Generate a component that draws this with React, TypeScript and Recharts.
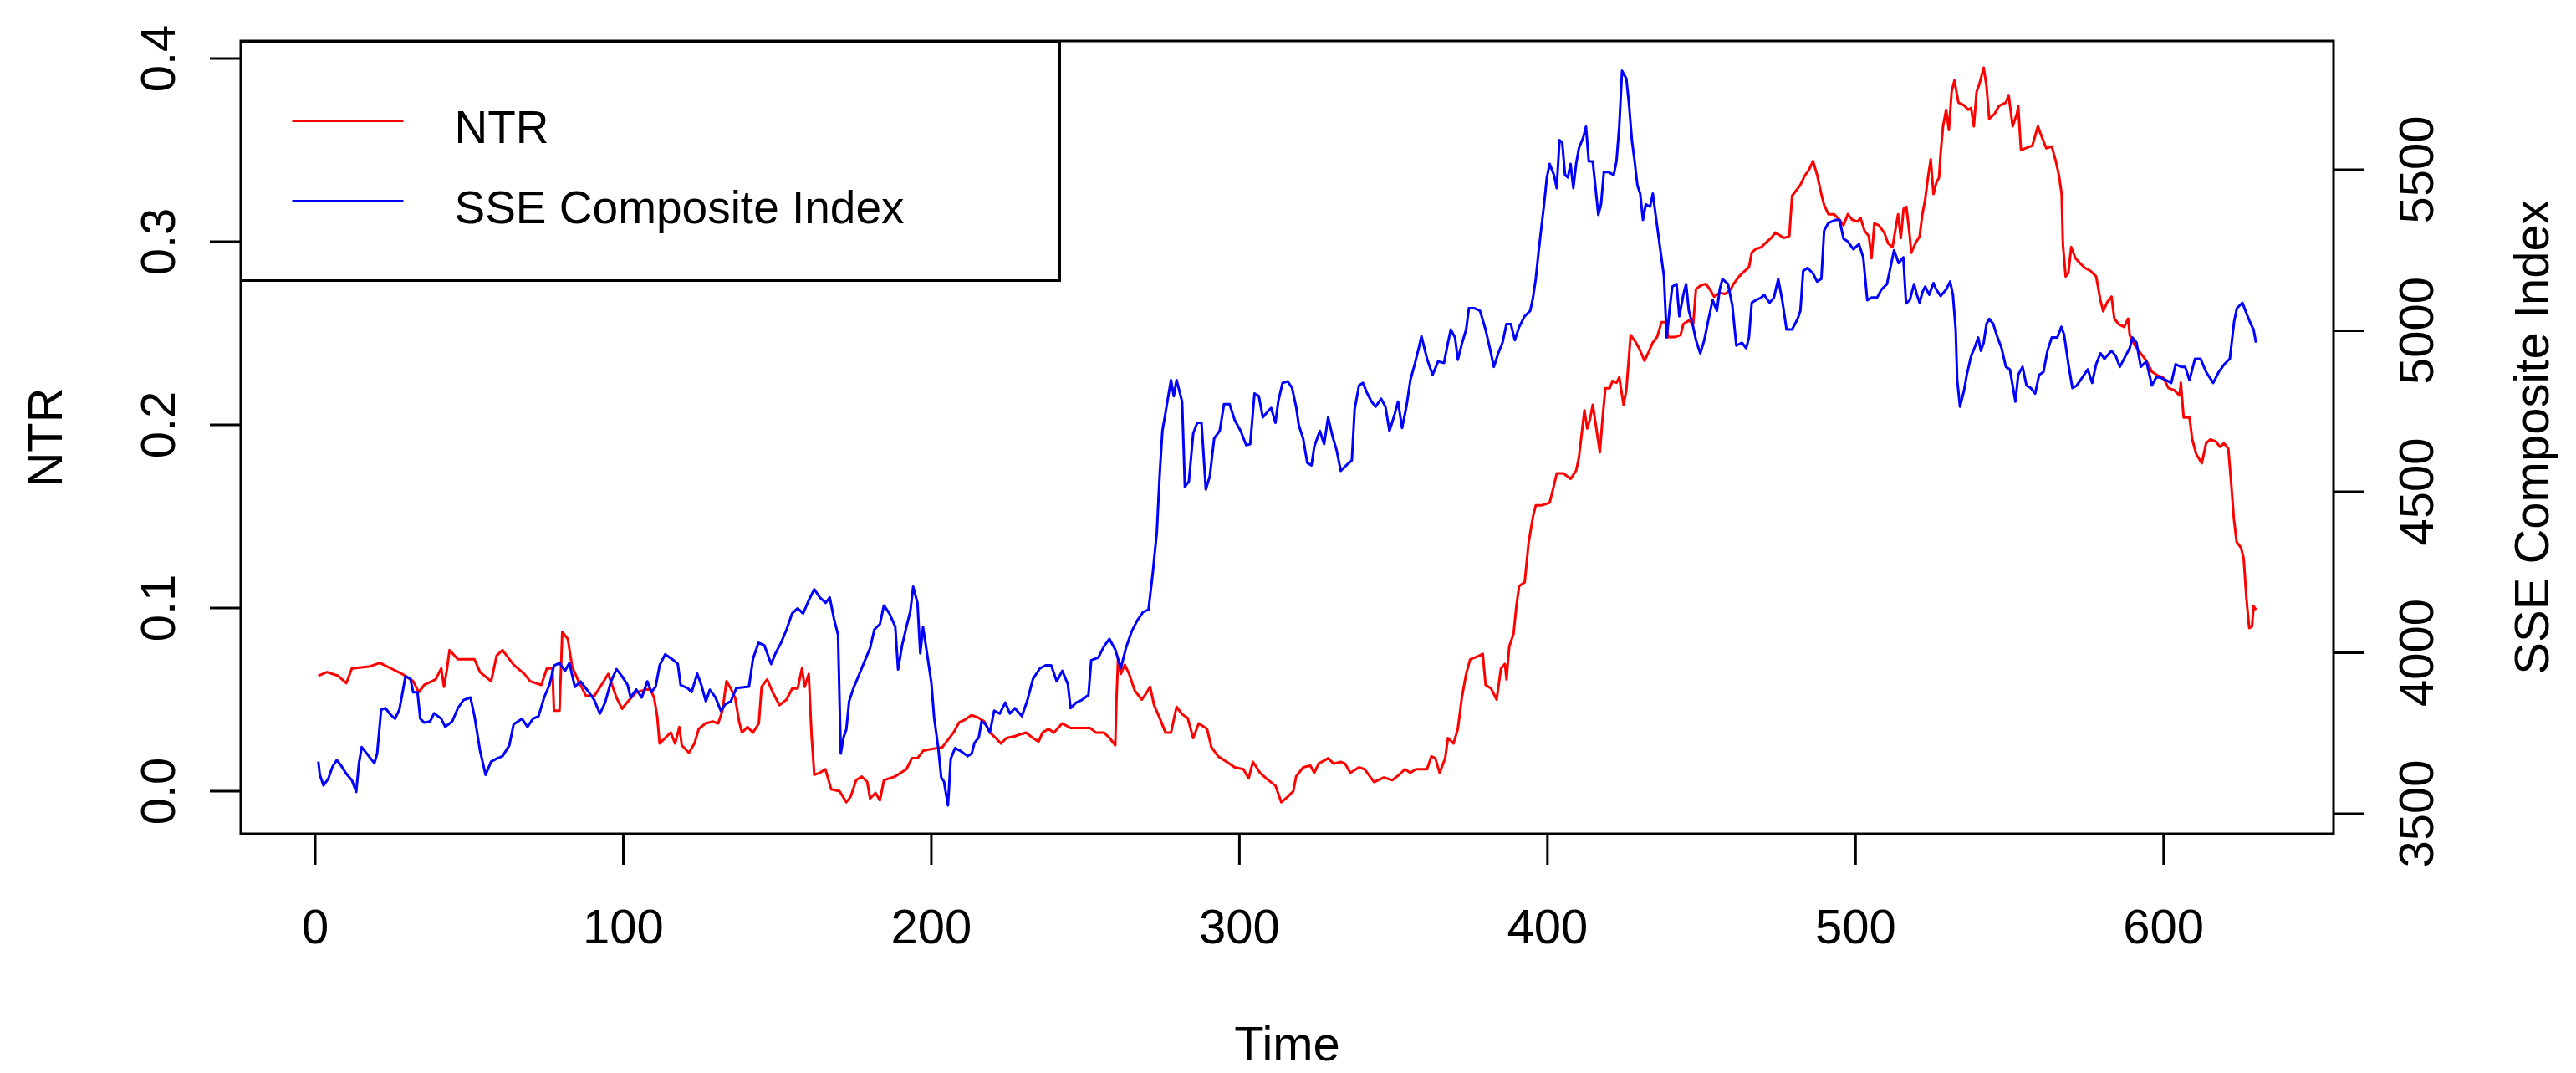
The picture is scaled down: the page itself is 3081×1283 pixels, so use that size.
import React from 'react';
import { LineChart, Line, XAxis, YAxis, ReferenceArea, Legend } from 'recharts';

const FONT = '"Liberation Sans", Arial, Helvetica, sans-serif';
const FONT_SIZE = 58;
const LEGEND_FONT_SIZE = 55;

const timeTicks = [0, 100, 200, 300, 400, 500, 600];
const ntrTicks = [0, 0.1, 0.2, 0.3, 0.4];
const sseTicks = [3500, 4000, 4500, 5000, 5500];
const timeDomain: [number, number] = [-24.16, 655.16];
const ntrDomain: [number, number] = [-0.02329, 0.40959];
const sseDomain: [number, number] = [3437.7, 5900];

const seriesNames = { ntr: 'NTR', sse: 'SSE Composite Index' };
const axisTitles = { x: 'Time', left: 'NTR', right: 'SSE Composite Index' };

// NTR: [time, value]
const ntrPoints: [number, number][] = [
  [1,0.063],[3.8,0.065],[7.4,0.063],[10.1,0.059],[11.9,0.067],[17.4,0.068],[21,0.070],[24.6,0.067],[28.2,0.064],[31.8,0.060],[33.6,0.054],[35.4,0.058],[39.1,0.061],[40.9,0.067],[41.8,0.057],[42.7,0.066],[43.6,0.077],[46.3,0.072],[51.7,0.072],[53.5,0.065],[57.1,0.060],[58.9,0.074],[60.8,0.077],[64.4,0.069],[67.9,0.064],[69.8,0.060],[73.4,0.058],[75.2,0.067],[77,0.067],[77.5,0.044],[79.3,0.044],[80.2,0.087],[82,0.083],[83.4,0.068],[85.2,0.061],[87.9,0.052],[90.6,0.052],[93.3,0.059],[95.1,0.064],[97.8,0.051],[99.6,0.045],
  [101.5,0.049],[104.2,0.054],[108.7,0.056],[110,0.051],[111,0.041],[111.8,0.026],[113.6,0.029],[115.4,0.032],[116.8,0.026],[118.2,0.035],[119,0.025],[121.3,0.021],[123.1,0.026],[124.5,0.034],[126.7,0.037],[129,0.038],[130.8,0.037],[132.2,0.044],[133.5,0.060],[134.9,0.056],[136.3,0.051],[137.6,0.038],[138.5,0.032],[140.3,0.035],[142.1,0.032],[144,0.037],[144.9,0.057],[146.7,0.061],[148.5,0.054],[150.7,0.047],[153,0.050],[154.8,0.056],[156.6,0.056],[158,0.067],[158.9,0.057],[160.2,0.064],[161.1,0.031],[162,0.009],[163.8,0.010],[165.6,0.012],[167.5,0.001],[170.2,0.000],[172.4,-0.006],[173.8,-0.003],[175.6,0.006],[177.4,0.008],[179.2,0.005],[180.1,-0.004],[181.9,-0.001],[183.3,-0.005],[184.6,0.006],[188.2,0.008],[190.1,0.010],[191.9,0.012],[193.7,0.018],[195.5,0.018],[197.3,0.022],[200,0.023],
  [203.6,0.024],[205.4,0.028],[207.2,0.032],[209,0.0375],[210.9,0.039],[213.1,0.0415],[215.4,0.040],[217.2,0.038],[219,0.032],[220.9,0.029],[222.6,0.026],[224.4,0.029],[227.1,0.030],[230.7,0.032],[233,0.029],[234.8,0.027],[236.1,0.032],[238,0.034],[239.8,0.032],[242.5,0.037],[245.2,0.0345],[248.8,0.0345],[251.5,0.0345],[253.4,0.032],[256,0.032],[257.9,0.029],[259.7,0.025],[260.1,0.050],[260.6,0.072],[261.5,0.064],[262.8,0.069],[264.2,0.064],[266,0.055],[268.3,0.050],[269.6,0.053],[271,0.057],[272.3,0.047],[274.1,0.040],[276,0.032],[277.8,0.032],[279.6,0.046],[281.4,0.042],[283.2,0.040],[285,0.029],[286.8,0.037],[289.5,0.034],[290.9,0.024],[293.1,0.019],[295.9,0.016],[298.5,0.013],[301.3,0.012],[303,0.007],[304.4,0.016],
  [306.7,0.010],[309.4,0.006],[311.7,0.003],[313.6,-0.006],[315.7,-0.003],[317.5,0.000],[318.4,0.008],[320.7,0.013],[323,0.014],[324.3,0.010],[325.7,0.015],[328.8,0.018],[330.6,0.015],[332.9,0.016],[334.3,0.015],[336,0.010],[338.8,0.013],[340.6,0.012],[343.7,0.005],[346.9,0.0075],[349.6,0.006],[351.9,0.009],[353.7,0.012],[355.5,0.010],[357.3,0.012],[360.9,0.012],[362.3,0.019],[363.6,0.018],[365,0.010],[366.8,0.018],[367.7,0.029],[369.5,0.026],[370.9,0.034],[372.2,0.051],[373.6,0.064],[374.9,0.072],[377.2,0.0735],[379,0.075],[379.9,0.058],[381.7,0.056],[383.5,0.050],[384.9,0.067],[386.2,0.0695],[386.7,0.061],[387.6,0.079],[389,0.086],[389.9,0.101],[390.8,0.112],[392.6,0.114],[393.9,0.136],[395.3,0.150],[396.2,0.156],[398,0.156],[400.7,0.1575],[402.1,0.167],[403,0.1735],[405.2,0.1735],[407.5,0.1705],
  [409.3,0.175],[410.2,0.182],[411.1,0.195],[412,0.208],[412.9,0.198],[413.8,0.203],[414.7,0.211],[415.6,0.201],[417,0.185],[417.9,0.204],[418.8,0.220],[420.2,0.220],[421.1,0.224],[422.4,0.223],[423.3,0.226],[424.7,0.211],[425.6,0.219],[427,0.249],[428.3,0.246],[429.7,0.242],[431.5,0.235],[432.9,0.240],[434.2,0.245],[435.6,0.248],[437,0.256],[438.3,0.256],[439.2,0.248],[441.5,0.248],[443.2,0.249],[444.1,0.255],[445.9,0.257],[447.3,0.255],[448.2,0.274],[449.6,0.276],[451.4,0.277],[452.7,0.274],[454.1,0.270],[455.9,0.272],[457.7,0.2715],[459.5,0.274],[460.4,0.277],[462.2,0.281],[464,0.284],[465.4,0.286],[466.3,0.294],[467.6,0.296],[469.4,0.297],[471.2,0.300],[472.6,0.302],[474,0.305],[476.7,0.302],[478.5,0.303],[479.4,0.325],[480.3,0.327],[482.1,0.331],[483.5,0.336],[484.8,0.339],[486.2,0.344],[487.6,0.336],[488.9,0.326],[489.8,0.320],[491.2,0.315],[493,0.315],[494.8,0.312],[496.1,0.309],[497.5,0.315],[498.9,0.312],[500.7,0.311],[501.6,0.313],[502.9,0.306],[504.3,0.303],[505.2,0.291],[506.1,0.310],[507.5,0.309],[509.3,0.305],[510.6,0.299],[512,0.297],[512.9,0.306],[513.8,0.315],[514.7,0.302],[515.6,0.318],[516.5,0.319],
  [517.6,0.303],[518.1,0.294],[519.4,0.299],[520.8,0.303],[521.7,0.315],[522.6,0.323],[523.5,0.335],[524.4,0.345],[525.3,0.326],[526.2,0.332],[527.1,0.335],[527.6,0.348],[528.4,0.363],[529.4,0.372],[530.3,0.361],[531.2,0.382],[532.1,0.388],[533.4,0.376],[535.2,0.3745],[536.6,0.372],[537.5,0.373],[538.4,0.363],[539.3,0.382],[540.2,0.386],[541.6,0.395],[542.5,0.385],[543.4,0.367],[545.2,0.370],[546.5,0.374],[548.8,0.376],[549.7,0.380],[551,0.363],[552.4,0.370],[552.8,0.374],[553.7,0.350],[555.1,0.351],[557.4,0.3525],[559.2,0.363],[560.5,0.357],[561.9,0.351],[563.7,0.352],[565,0.344],[566,0.3365],[566.9,0.326],[567.3,0.299],[568.2,0.281],[569.1,0.283],[570,0.297],[571.4,0.291],[572.7,0.2885],[574.5,0.2856],[576.3,0.284],[578.1,0.281],[579.5,0.268],[580.4,0.262],[581.7,0.267],[583.1,0.270],[584,0.258],[585.4,0.255],[587.2,0.2535],[588.5,0.258],[589,0.249],[590.8,0.243],[592.6,0.239],[594.4,0.235],[596.2,0.229],[598,0.227],[599.8,0.226],[601.6,0.220],[603.4,0.219],[605.2,0.216],[605.6,0.223],[606.5,0.204],[608.4,0.204],[609.3,0.192],[610.6,0.184],[612.4,0.179],[613.8,0.190],[615.1,0.192],[616.9,0.191],[618.3,0.188],[619.6,0.190],[621,0.187],[621.9,0.169],[622.8,0.149],[623.7,0.136],[625.1,0.133],[626,0.127],[626.9,0.105],[627.8,0.089],[628.7,0.090],[629.2,0.101],[630,0.099],
];

// SSE Composite Index: [time, value]
const ssePoints: [number, number][] = [
  [1,3662],[1.5,3621],[2.7,3588],[4.2,3608],[5.6,3646],[7,3667],[8.3,3651],[10.1,3624],[11.9,3604],[13.3,3568],[14.2,3657],[15.1,3707],[17.4,3679],[19.2,3657],[20.1,3687],[21.4,3823],[22.8,3828],[24.6,3806],[25.9,3795],[27.3,3823],[28.2,3869],[29.3,3927],[30.9,3919],[31.8,3877],[33.2,3877],[34.1,3795],[35.4,3783],[37.3,3787],[38.6,3812],[40.9,3795],[42.2,3770],[44.5,3787],[46.3,3828],[48.1,3853],[50.4,3861],[51.7,3803],[53.5,3696],[55.3,3621],[57.1,3662],[58.9,3671],[60.8,3679],[63,3712],[64.4,3778],[67.1,3795],[68.9,3770],[70.7,3795],[72.5,3803],[74.3,3861],[76.1,3902],[77.5,3960],[79.3,3968],[81.1,3944],[82.5,3968],[84.3,3894],[86.1,3911],[88.8,3878],[90.6,3853],[92.4,3811],[94.1,3845],[96,3911],[97.8,3949],[99.6,3927],
  [101.4,3900],[102.4,3861],[104.2,3886],[106,3861],[107.8,3911],[109.1,3878],[110.5,3894],[111.8,3961],[113.6,3995],[115.9,3980],[117.7,3965],[118.6,3900],[120.9,3890],[122.2,3878],[124,3935],[125.4,3898],[126.8,3849],[128.1,3885],[129.9,3862],[131.7,3819],[133.1,3840],[134.9,3849],[136.7,3890],[140.8,3895],[142.1,3981],[143.9,4031],[145.8,4023],[148,3965],[149.4,3998],[151.2,4031],[153,4072],[154.8,4122],[156.6,4138],[158.4,4122],[160.2,4163],[162,4197],[163.8,4172],[165.7,4155],[167,4172],[168.4,4105],[169.7,4056],[170.6,3687],[171.5,3737],[172.4,3762],[173.3,3849],[174.7,3890],[176.5,3931],[178.3,3973],[180.1,4014],[181.5,4072],[183.3,4089],[184.6,4147],[186.4,4122],[188.3,4080],[189.2,3948],[190.5,4023],[191.9,4080],[193.2,4130],[194.1,4205],[195.5,4155],[196.4,3998],[197.3,4080],[198.6,3998],[200,3907],[200.9,3799],[202.3,3700],[203.2,3613],[204.1,3600],[205.4,3526],
  [206.3,3671],[207.7,3704],[209.5,3695],[211.8,3679],[213.1,3687],[214,3720],[215.4,3737],[216.3,3787],[217.6,3778],[219,3753],[220.4,3820],[222.2,3811],[224,3845],[225.5,3811],[227.1,3828],[229.4,3803],[231.2,3853],[233,3919],[235.3,3952],[237.1,3961],[238.9,3961],[240.7,3911],[242.5,3944],[244.3,3903],[245.2,3828],[247,3845],[248.8,3853],[251,3869],[251.9,3977],[254.2,3985],[256,4019],[257.8,4043],[259.7,4010],[261.5,3952],[263.3,4019],[265.1,4068],[266.9,4101],[268.7,4126],[270.5,4134],[271.9,4250],[273.2,4375],[274.1,4549],[275,4689],[275.9,4739],[276.9,4797],[277.8,4847],[278.7,4797],[279.6,4847],[281.4,4780],[282.3,4515],[283.6,4532],[285,4681],[286.3,4714],[287.7,4714],[289.1,4507],[290.4,4549],[291.8,4665],[293.6,4689],[295,4772],[296.8,4772],[298.5,4722],[300.4,4689],[302.2,4645],[303.5,4648],[304.9,4805],[306.3,4797],[307.6,4731],[309,4747],[310.3,4760],
  [311.7,4714],[312.6,4780],[314,4838],[315.7,4843],[317.1,4822],[318.4,4764],[319.3,4706],[320.7,4665],[322,4590],[323.4,4582],[324.3,4640],[326.1,4689],[327.5,4648],[328.8,4731],[330.2,4673],[331.5,4631],[332.9,4565],[334.7,4582],[336.5,4598],[337.4,4756],[338.8,4830],[340.1,4838],[341.5,4805],[342.9,4780],[344.2,4764],[346,4789],[347.4,4764],[348.7,4689],[350.1,4731],[351.5,4780],[352.8,4698],[354.2,4764],[355.5,4847],[356.9,4896],[358.2,4946],[359.1,4983],[360.9,4913],[362.7,4863],[364.5,4905],[366.4,4900],[367.7,4963],[368.6,5004],[370,4979],[370.9,4910],[372.3,4963],[373.6,5004],[374.5,5070],[376.3,5070],[378.1,5062],[379.9,5004],[381.3,4946],[382.6,4888],[384,4930],[385.4,4963],[386.7,5021],[388.1,5021],[389.4,4971],[390.8,5012],[392.6,5045],[394.4,5062],[395.3,5103],[396.2,5161],[397.1,5244],[398,5319],[398.9,5393],[399.8,5476],[400.7,5518],[402.1,5484],[403,5443],[403.9,5592],[404.8,5584],[405.7,5484],[406.6,5476],[407.5,5518],[408.4,5443],
  [409.3,5518],[410.2,5567],[411.6,5600],[412.5,5634],[413.4,5526],[414.7,5526],[415.6,5443],[416.5,5360],[417.4,5393],[418.3,5493],[419.7,5493],[421.5,5484],[422.4,5526],[423.3,5634],[424.2,5807],[425.6,5783],[426.5,5700],[427.4,5592],[428.3,5526],[429.2,5451],[430.1,5426],[431,5344],[431.9,5393],[433.3,5385],[434.2,5426],[435.1,5360],[436.5,5261],[437.8,5170],[438.7,4979],[439.6,5062],[440.5,5137],[441.9,5145],[442.8,5045],[444.1,5112],[445,5145],[445.9,5062],[447.3,5012],[448.2,4971],[449.6,4930],[450.9,4971],[452.3,5037],[453.6,5095],[455,5062],[455.9,5128],[456.8,5161],[458.6,5145],[460,5079],[461.3,4954],[463.1,4963],[464.5,4946],[465.4,4979],[466.3,5087],[467.6,5095],[469.4,5103],[470.3,5112],[472.1,5087],[473.5,5103],[474.9,5161],[476.2,5095],[477.6,5004],[479.4,5004],[481.2,5037],[482.1,5062],[483,5186],[484.4,5195],[486.2,5178],[487.5,5153],[488.9,5161],[489.8,5311],[491.2,5335],[493.4,5344],[494.8,5344],[496.1,5286],[497.5,5277],[499.3,5253],[501.1,5269],[502.5,5228],[503.8,5095],[505.2,5103],[507,5103],[508.4,5128],[510.2,5145],
  [511.4,5200],[512.5,5250],[514,5210],[515.5,5228],[516.4,5085],[517.6,5095],[519,5145],[519.9,5112],[520.8,5087],[521.7,5120],[522.6,5137],[523.9,5112],[525.3,5148],[526.2,5128],[527.6,5108],[529.4,5128],[530.7,5153],[531.6,5112],[532.5,5004],[533,4847],[533.9,4764],[535.2,4814],[536.1,4863],[537.5,4921],[538.9,4954],[539.8,4979],[540.7,4938],[541.6,4963],[542.5,5021],[543.4,5037],[544.7,5021],[546.1,4979],[547.4,4946],[548.8,4888],[550.1,4880],[551,4830],[551.9,4780],[552.8,4863],[554.2,4888],[555.5,4830],[556.9,4822],[558.3,4805],[559.6,4863],[561,4872],[562.3,4938],[563.7,4979],[565.5,4979],[566.8,5012],[567.7,4988],[569.1,4896],[570.4,4822],[571.8,4830],[573.6,4855],[575.4,4880],[576.8,4838],[578.1,4896],[579.5,4930],[580.8,4913],[583.1,4938],[584.5,4921],[585.8,4888],[587.6,4921],[589,4946],[589.9,4979],[591.2,4963],[592.6,4888],[594.4,4905],[596.2,4830],[597.6,4855],[598.9,4855],[600.7,4847],[602.5,4838],[603.9,4896],[605.7,4888],[607,4888],[608.4,4847],[610.2,4913],[612,4913],[613.8,4872],[616.1,4838],[617.9,4872],[619.7,4896],[621.5,4913],[622.9,5029],[623.8,5070],[625.6,5087],[626.9,5054],[628.3,5021],[629.2,5004],[630,4963],
];

const ntrData = ntrPoints.map(([t, v]) => ({ t, v }));
const sseData = ssePoints.map(([t, v]) => ({ t, v }));

const textProps = { fontSize: FONT_SIZE, fontFamily: FONT, fill: '#000' };

const BottomTick = (props: any) => {
  const { x, y, payload } = props;
  return (
    <text x={x} y={y + 94} textAnchor="middle" {...textProps}>
      {payload.value}
    </text>
  );
};

const LeftTick = (props: any) => {
  const { x, y, payload } = props;
  const bx = x - 42;
  return (
    <text x={bx} y={y} textAnchor="middle" transform={`rotate(-90, ${bx}, ${y})`} {...textProps}>
      {Number(payload.value).toFixed(1)}
    </text>
  );
};

const RightTick = (props: any) => {
  const { x, y, payload } = props;
  const bx = x + 82;
  return (
    <text x={bx} y={y} textAnchor="middle" transform={`rotate(-90, ${bx}, ${y})`} {...textProps}>
      {payload.value}
    </text>
  );
};

const TimeLabel = (props: any) => {
  const vb = props.viewBox || { x: 288, y: 997, width: 2503, height: 286 };
  return (
    <text x={vb.x + vb.width / 2} y={vb.y + 271} textAnchor="middle" {...textProps}>
      {axisTitles.x}
    </text>
  );
};

const LeftLabel = (props: any) => {
  const vb = props.viewBox || { x: 0, y: 49, width: 288, height: 948 };
  const bx = vb.x + 74;
  const cy = vb.y + vb.height / 2;
  return (
    <text x={bx} y={cy} textAnchor="middle" transform={`rotate(-90, ${bx}, ${cy})`} {...textProps}>
      {axisTitles.left}
    </text>
  );
};

const RightLabel = (props: any) => {
  const vb = props.viewBox || { x: 2791, y: 49, width: 290, height: 948 };
  const bx = vb.x + 257;
  const cy = vb.y + vb.height / 2;
  return (
    <text x={bx} y={cy} textAnchor="middle" transform={`rotate(-90, ${bx}, ${cy})`} {...textProps}>
      {axisTitles.right}
    </text>
  );
};

const LegendBox = (props: any) => {
  const items = (props.payload || []) as any[];
  return (
    <svg width={982} height={289} style={{ display: 'block' }}>
      <rect x={1.5} y={1.5} width={979} height={286} fill="#fff" stroke="#000" strokeWidth={3} />
      {items.map((it, i) => (
        <g key={String(it.value)}>
          <line x1={62.5} x2={195.5} y1={96.5 + i * 96} y2={96.5 + i * 96} stroke={it.color} strokeWidth={3} />
          <text x={256.5} y={122.5 + i * 96} fontSize={LEGEND_FONT_SIZE} fontFamily={FONT} fill="#000">
            {it.value}
          </text>
        </g>
      ))}
    </svg>
  );
};

export default function App() {
  return (
    <div style={{ position: 'absolute', left: 0, top: 0, width: 3081, height: 1283, background: '#fff' }}>
      <LineChart width={3081} height={1283} margin={{ top: 49, right: 0, bottom: 0, left: 0 }}>
        <XAxis
          dataKey="t"
          type="number"
          domain={timeDomain}
          ticks={timeTicks}
          allowDataOverflow
          height={286}
          axisLine={false}
          tickLine={{ stroke: '#000', strokeWidth: 3 }}
          tickSize={37}
          tickMargin={0}
          tick={<BottomTick />}
          interval={0}
          label={<TimeLabel />}
        />
        <YAxis
          yAxisId="ntr"
          orientation="left"
          type="number"
          domain={ntrDomain}
          ticks={ntrTicks}
          allowDataOverflow
          width={288}
          axisLine={false}
          tickLine={{ stroke: '#000', strokeWidth: 3 }}
          tickSize={37}
          tickMargin={0}
          tick={<LeftTick />}
          interval={0}
          label={<LeftLabel />}
        />
        <YAxis
          yAxisId="sse"
          orientation="right"
          type="number"
          domain={sseDomain}
          ticks={sseTicks}
          allowDataOverflow
          width={290}
          axisLine={false}
          tickLine={{ stroke: '#000', strokeWidth: 3 }}
          tickSize={37}
          tickMargin={0}
          tick={<RightTick />}
          interval={0}
          label={<RightLabel />}
        />
        <ReferenceArea
          yAxisId="ntr"
          x1={timeDomain[0]}
          x2={timeDomain[1]}
          y1={ntrDomain[0]}
          y2={ntrDomain[1]}
          fill="none"
          fillOpacity={0}
          stroke="#000"
          strokeWidth={3}
          ifOverflow="visible"
        />
        <Line
          data={ntrData}
          dataKey="v"
          name={seriesNames.ntr}
          yAxisId="ntr"
          type="linear"
          stroke="#FF0000"
          strokeWidth={3}
          strokeLinejoin="round"
          dot={false}
          activeDot={false}
          isAnimationActive={false}
        />
        <Line
          data={sseData}
          dataKey="v"
          name={seriesNames.sse}
          yAxisId="sse"
          type="linear"
          stroke="#0000FF"
          strokeWidth={3}
          strokeLinejoin="round"
          dot={false}
          activeDot={false}
          isAnimationActive={false}
        />
        <Legend
          content={<LegendBox />}
          layout="vertical"
          align="center"
          verticalAlign="middle"
          wrapperStyle={{ left: 286.5, top: 47.5, width: 982, height: 289 }}
        />
      </LineChart>
    </div>
  );
}
